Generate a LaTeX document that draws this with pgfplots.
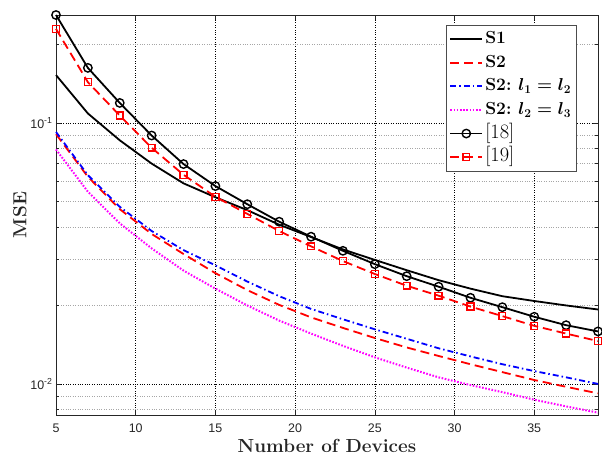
\documentclass[border=0pt]{standalone}
\usepackage{fontspec}
\setsansfont{Liberation Sans}
\usepackage{amsmath}
\usepackage{pgfplots}
\pgfplotsset{compat=1.18}

\definecolor{mgnt}{RGB}{255,0,255}
\definecolor{axgray}{RGB}{38,38,38}

% MSE against number of devices
\pgfplotstableread{
x   s1      s2      s2a     s2b      r18     r19
5   0.153   0.0908  0.0926  0.0793   0.26    0.230
7   0.109   0.0623  0.0632  0.0546   0.163   0.1437
9   0.086   0.0468  0.0478  0.0413   0.1196  0.107
11  0.070   0.0376  0.0386  0.0331   0.0897  0.0805
13  0.0588  0.0315  0.0326  0.0272   0.0697  0.0634
15  0.052   0.0266  0.0285  0.0232   0.0574  0.0522
17  0.0464  0.0229  0.0247  0.0200   0.0489  0.0449
19  0.0408  0.0201  0.0217  0.0175   0.0419  0.0386
21  0.0366  0.0180  0.0194  0.0156   0.0367  0.0337
23  0.0328  0.0164  0.0177  0.0140   0.0324  0.0296
25  0.0299  0.0150  0.0162  0.01265  0.0288  0.0264
27  0.0273  0.0138  0.0149  0.01155  0.0259  0.0238
29  0.0250  0.0128  0.0137  0.0106   0.0236  0.0218
31  0.0232  0.0119  0.01275 0.0099   0.0214  0.0198
33  0.0217  0.0111  0.0119  0.0093   0.0197  0.0182
35  0.0208  0.01035 0.0112  0.0087   0.0181  0.0167
37  0.0200  0.00975 0.0106  0.0082   0.0168  0.0156
39  0.0193  0.0092  0.0100  0.00776  0.0159  0.0146
}\msedata

\begin{document}
\begin{tikzpicture}
\useasboundingbox (-56bp,-43bp) rectangle (546bp,415bp);
\begin{axis}[
  at={(0,0)}, anchor=south west,
  scale only axis, width=542bp, height=400bp,
  ymode=log,
  xmin=5, xmax=39, ymin=0.0076, ymax=0.26,
  xtick={5,10,...,35},
  ytick={0.01,0.1},
  yticklabels={10\textsuperscript{-2},10\textsuperscript{-1}},
  minor ytick={0.008,0.009,0.02,0.03,0.04,0.05,0.06,0.07,0.08,0.09,0.2},
  tick align=inside,
  major tick length=5bp, minor tick length=3bp,
  tick style={axgray, line width=0.5bp},
  axis line style={axgray, line width=0.7bp},
  xmajorgrids, ymajorgrids, yminorgrids,
  major grid style={black, dotted, line width=0.6bp},
  minor grid style={black!35, dotted, line width=0.6bp},
  ticklabel style={font=\sffamily\fontsize{12.5}{14}\selectfont, text=axgray},
  xticklabel style={yshift=-5bp},
  /pgf/number format/assume math mode=true,
  xlabel={\textbf{Number of Devices}},
  ylabel={\textbf{MSE}},
  label style={font=\fontsize{19}{22}\selectfont, text=axgray},
  xlabel style={at={(axis description cs:0.5,0)}, anchor=base, yshift=-37bp},
  ylabel style={at={(axis description cs:-0.0664,0.5)}, anchor=center},
  legend cell align=left,
  legend style={at={(0.96,0.975)}, anchor=north east, draw=black!70,
    line width=0.7bp, font=\fontsize{17.5}{22}\selectfont, row sep=0bp,
    nodes={inner ysep=2.3bp, inner xsep=2bp, text height=14bp, text depth=5bp}},
  legend image code/.code={\draw[mark repeat=2,mark phase=2] plot coordinates {(0bp,0bp) (16bp,0bp) (32bp,0bp)};},
  clip=false,
]
\addplot[black, line width=1.8bp] table[x=x, y=s1] {\msedata};
\addlegendentry{\textbf{S1}}
\addplot[red, line width=1.8bp, dash pattern=on 9bp off 5bp] table[x=x, y=s2] {\msedata};
\addlegendentry{\textbf{S2}}
\addplot[blue, line width=1.8bp, dash pattern=on 6bp off 3bp on 1.5bp off 3bp] table[x=x, y=s2a] {\msedata};
\addlegendentry{\textbf{S2:} $\boldsymbol{l_1 = l_2}$}
\addplot[mgnt, line width=2bp, dash pattern=on 1.6bp off 1.6bp] table[x=x, y=s2b] {\msedata};
\addlegendentry{\textbf{S2:} $\boldsymbol{l_2 = l_3}$}
\addplot[black, line width=1.8bp, mark=o, mark size=4.2bp, mark options={solid, line width=1.4bp}] table[x=x, y=r18] {\msedata};
\addlegendentry{{\fontsize{20.5}{22}\selectfont[18]}}
\addplot[red, line width=1.8bp, dash pattern=on 9bp off 5bp, mark=square, mark size=3.4bp, mark options={solid, line width=1.4bp}] table[x=x, y=r19] {\msedata};
\addlegendentry{{\fontsize{20.5}{22}\selectfont[19]}}
\end{axis}
\end{tikzpicture}
\end{document}
